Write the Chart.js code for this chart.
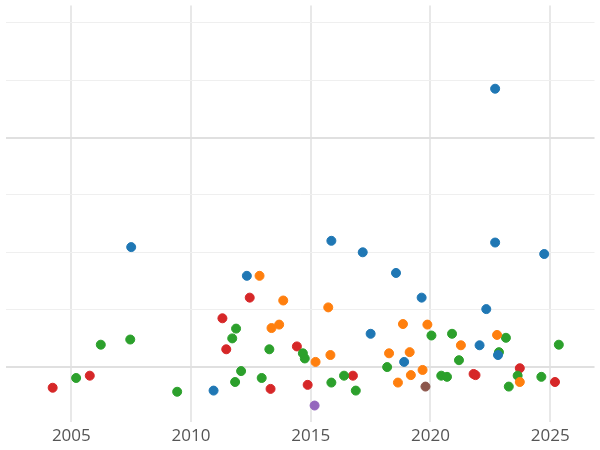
<!DOCTYPE html><html><head><script src="https://cdn.jsdelivr.net/npm/chart.js@4"></script>
<style>body{margin:0;background:#fff}#w{width:600px;height:450px}</style></head><body><div id="w"><canvas id="c"></canvas></div>
<script>
const xTicks=[2005,2010,2015,2020,2025];
const blue=[[2007.5,2.09],[2010.94,-0.41],[2012.33,1.59],[2015.86,2.2],[2017.17,2.0],[2017.5,0.58],[2018.56,1.64],[2018.9,0.09],[2019.63,1.21],[2022.05,0.38],[2022.33,1.01],[2022.7,4.85],[2022.7,2.17],[2022.82,0.21],[2024.75,1.97]];
const orange=[[2012.86,1.59],[2013.85,1.16],[2013.36,0.68],[2013.68,0.74],[2015.2,0.09],[2015.73,1.04],[2015.82,0.21],[2018.27,0.24],[2018.64,-0.27],[2018.85,0.75],[2019.13,0.26],[2019.18,-0.14],[2019.67,-0.05],[2019.87,0.74],[2021.27,0.38],[2022.78,0.56],[2023.73,-0.26]];
const green=[[2005.2,-0.19],[2006.23,0.39],[2007.46,0.48],[2009.42,-0.43],[2011.72,0.5],[2011.88,0.67],[2011.84,-0.26],[2012.09,-0.07],[2012.95,-0.19],[2013.27,0.31],[2014.67,0.24],[2014.75,0.15],[2015.86,-0.27],[2016.39,-0.15],[2016.88,-0.41],[2018.19,0],[2020.04,0.55],[2020.45,-0.15],[2020.69,-0.17],[2020.9,0.58],[2021.19,0.12],[2022.86,0.26],[2023.15,0.51],[2023.27,-0.34],[2023.64,-0.15],[2024.63,-0.17],[2025.36,0.39]];
const red=[[2004.22,-0.36],[2005.77,-0.15],[2011.31,0.85],[2011.47,0.31],[2012.45,1.21],[2013.32,-0.38],[2014.42,0.36],[2014.87,-0.31],[2016.76,-0.15],[2021.8,-0.12],[2021.88,-0.14],[2023.73,-0.02],[2025.2,-0.26]];
const purple=[[2015.16,-0.67]];
const brown=[[2019.79,-0.34]];
const mk=(d,c)=>({data:d.map(p=>({x:p[0],y:p[1]})),backgroundColor:c,borderColor:c,pointRadius:4.5,pointHoverRadius:4.5});
new Chart(document.getElementById('c'),{type:'scatter',
data:{datasets:[mk(blue,'#1f77b4'),mk(orange,'#ff7f0e'),mk(green,'#2ca02c'),mk(red,'#d62728'),mk(purple,'#9467bd'),mk(brown,'#8c564b')]},
options:{responsive:true,maintainAspectRatio:false,animation:false,layout:{padding:0},
plugins:{legend:{display:false},tooltip:{enabled:false}},
scales:{x:{type:'linear',min:2002.25,max:2026.85,afterBuildTicks:a=>{a.ticks=xTicks.map(v=>({value:v}))},
ticks:{font:{size:17,family:'Open Sans'},color:'#555',padding:4,callback:v=>v},grid:{color:'#e8e8e8',lineWidth:2,drawTicks:false},border:{display:false}},
y:{min:-0.95,max:6.3,afterBuildTicks:a=>{a.ticks=[0,1,2,3,4,5,6].map(v=>({value:v}))},ticks:{display:false},
grid:{color:c=>(c.tick&&(c.tick.value===0||c.tick.value===4))?'#e0e0e0':'#efefef',lineWidth:c=>(c.tick&&(c.tick.value===0||c.tick.value===4))?2:1,drawTicks:false},border:{display:false},afterFit:a=>{a.width=0}}}}});
</script></body></html>
